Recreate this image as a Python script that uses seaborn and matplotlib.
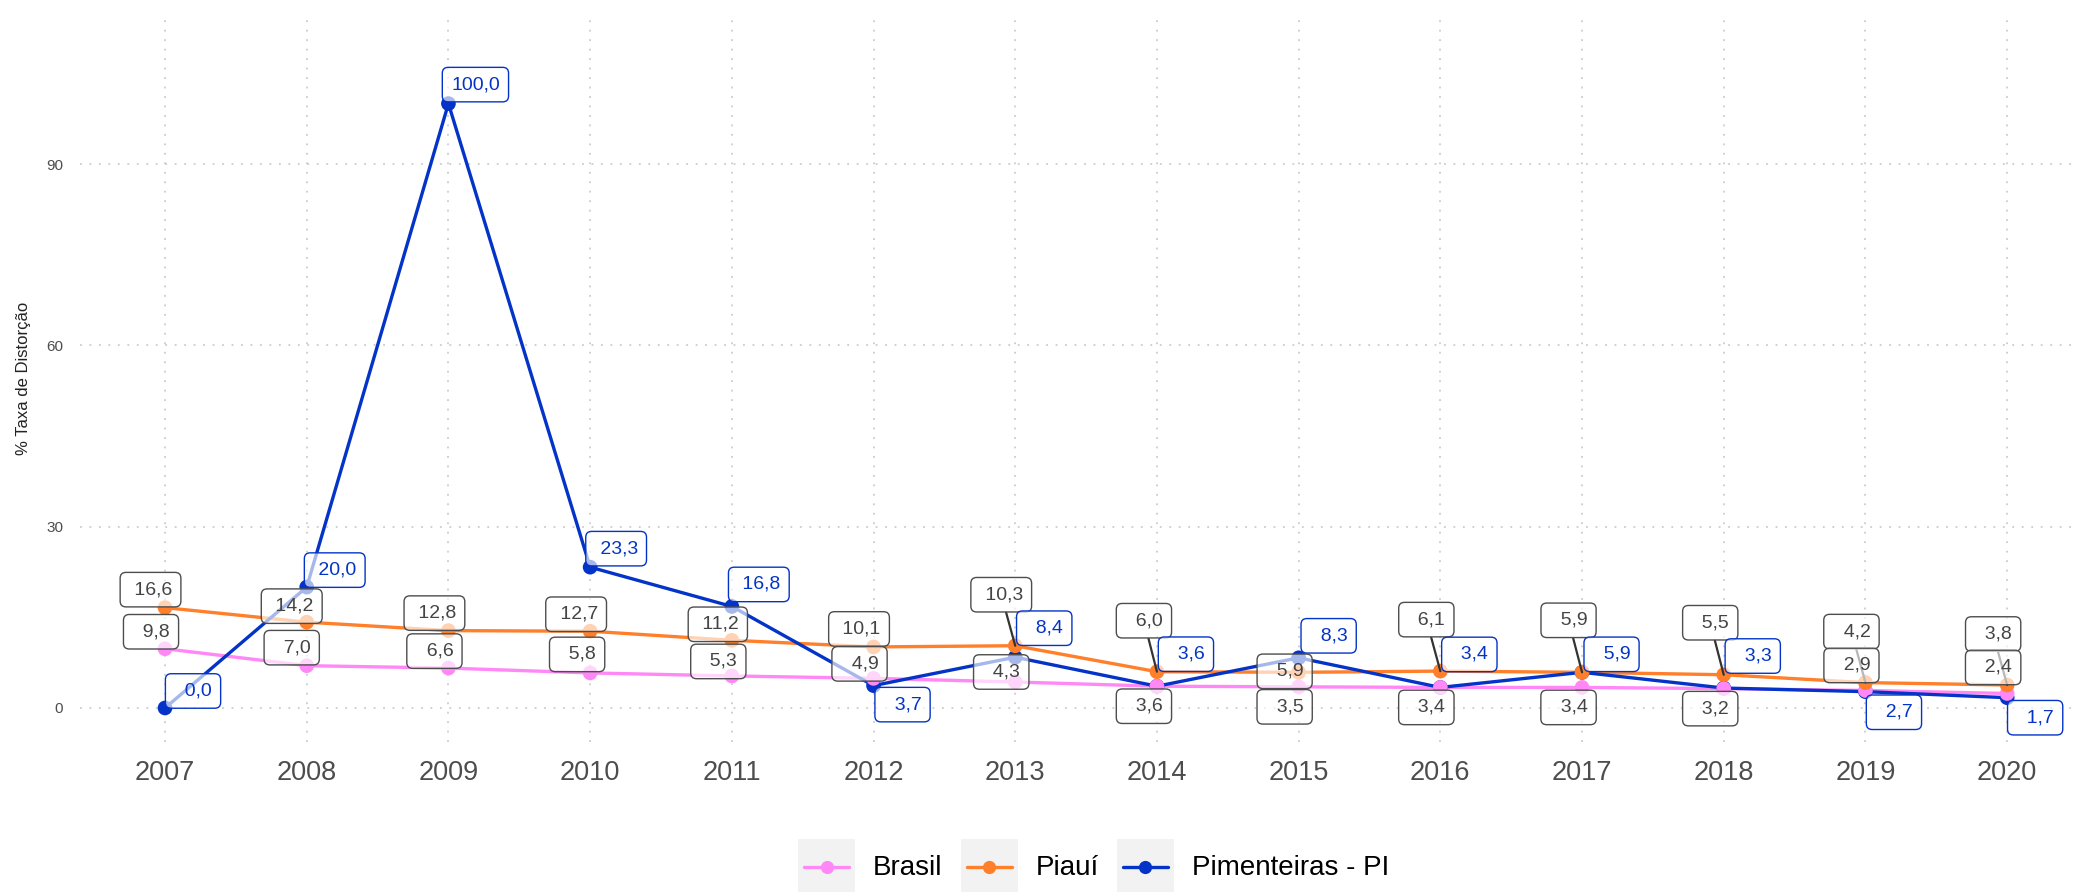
import matplotlib
matplotlib.use("Agg")
import matplotlib.pyplot as plt
from matplotlib.lines import Line2D
from matplotlib.patches import Rectangle
import pandas as pd
import seaborn as sns

# Taxa de distorção idade-série (%), 2007-2020
anos = list(range(2007, 2021))
brasil = [9.8, 7.0, 6.6, 5.8, 5.3, 4.9, 4.3, 3.6, 3.5, 3.4, 3.4, 3.2, 2.9, 2.4]
piaui = [16.6, 14.2, 12.8, 12.7, 11.2, 10.1, 10.3, 6.0, 5.9, 6.1, 5.9, 5.5, 4.2, 3.8]
pimenteiras = [0.0, 20.0, 100.0, 23.3, 16.8, 3.7, 8.4, 3.6, 8.3, 3.4, 5.9, 3.3, 2.7, 1.7]
series = ["Brasil", "Piauí", "Pimenteiras - PI"]
y_ticks = [0, 30, 60, 90]
y_titulo = "% Taxa de Distorção"

cores = {"Brasil": "#FF88F6", "Piauí": "#FF7F2A", "Pimenteiras - PI": "#0334C7"}

# label box offsets from each point, in pixels (dx right, dy down)
desloc = {
    "Brasil": [(-14, -17), (-15, -18), (-14, -17), (-13, -18.5), (-13.5, -14.5),
               (-14, -14.5), (-14, -10), (-13, 20), (-14, 20), (-14, 20),
               (-13.5, 20), (-13.5, 20), (-14, -25), (-14, -26)],
    "Piauí": [(-14.5, -18), (-15, -16), (-14, -17.5), (-14, -17), (-14, -16),
              (-14.5, -18), (-14, -51), (-13, -51), (-14, -1), (-14, -51.5),
              (-13.5, -52), (-13.5, -52), (-14, -51), (-14, -51)],
    "Pimenteiras - PI": [(28, -17), (28, -17), (27, -19), (26, -18.5), (27, -22),
                         (29, 19), (29, -29), (29, -32), (30, -22), (29, -33),
                         (29.5, -18), (29, -32), (28.5, 20.6), (28, 20)],
}

valores = {"Brasil": brasil, "Piauí": piaui, "Pimenteiras - PI": pimenteiras}
df = pd.DataFrame(
    [(s, a, v) for s in series for a, v in zip(anos, valores[s])],
    columns=["serie", "ano", "taxa"],
)

sns.set_theme(style="white")
plt.rcParams["font.family"] = ["Liberation Sans", "DejaVu Sans"]

W, H = 2080, 892
fig = plt.figure(figsize=(W / 100, H / 100), dpi=100)
ax = fig.add_axes([80 / W, 1 - 742 / H, 1998 / W, 727 / H])

sns.lineplot(data=df, x="ano", y="taxa", hue="serie", hue_order=series,
             palette=cores, linewidth=2.4, legend=False, ax=ax, zorder=2)

# points: municipality first so state/country points sit on top
ordem_pts = ["Pimenteiras - PI", "Brasil", "Piauí"]
df_pts = pd.concat([df[df["serie"] == s] for s in ordem_pts])
sns.scatterplot(data=df_pts, x="ano", y="taxa", hue="serie", palette=cores,
                s=112, linewidth=0, legend=False, ax=ax, zorder=3)

ax.set_xlim(2006.40, 2020.50)
ax.set_ylim(-5.63, 114.66)
ax.set_xticks(anos)
ax.set_xticklabels([str(a) for a in anos])
ax.set_yticks(y_ticks)
ax.set_yticklabels([str(t) for t in y_ticks])
ax.tick_params(axis="x", length=0, pad=13, labelsize=19.5, labelcolor="#4D4D4D")
ax.tick_params(axis="y", length=0, pad=12, labelsize=11, labelcolor="#4D4D4D")
ax.grid(True, color="#C4C4C4", linestyle=(0, (1.2, 5)), linewidth=1.1)
for sp in ax.spines.values():
    sp.set_visible(False)
ax.set_xlabel("")
ax.set_ylabel(y_titulo, fontsize=12, color="#222222")
ax.yaxis.set_label_coords((24 - 80) / 1998, 0.5)
ax.yaxis.label.set_verticalalignment("center")

# value labels
z_label = {"Piauí": 5, "Brasil": 6, "Pimenteiras - PI": 7}
for s in ["Piauí", "Brasil", "Pimenteiras - PI"]:
    azul = s == "Pimenteiras - PI"
    tc = cores[s] if azul else "#444444"
    ec = cores[s] if azul else "#4D4D4D"
    for a, v, (dx, dy) in zip(anos, valores[s], desloc[s]):
        txt = f"{v:.1f}".replace(".", ",").rjust(5)
        kw = {}
        if abs(dy) > 40:
            kw["arrowprops"] = dict(arrowstyle="-", color="#333333", lw=1.6,
                                    shrinkA=0, shrinkB=0)
        ax.annotate(txt, xy=(a, v), xytext=(dx, -dy), textcoords="offset pixels",
                    ha="center", va="center", fontsize=14, color=tc,
                    bbox=dict(boxstyle="round,pad=0.45,rounding_size=0.3",
                              fc=(1, 1, 1, 0.65), ec=ec, lw=1.0),
                    zorder=z_label[s], annotation_clip=False, **kw)

# legend along the bottom edge
fig.canvas.draw()
renderer = fig.canvas.get_renderer()
x_px = 798
y_c = 867
for nome in series:
    fig.add_artist(Rectangle((x_px / W, -10 / H), 57 / W, (892 + 10 - 839) / H,
                             transform=fig.transFigure, fc="#F2F2F2", ec="none"))
    fig.add_artist(Line2D([(x_px + 6) / W, (x_px + 51) / W], [1 - y_c / H] * 2,
                          transform=fig.transFigure, color=cores[nome], lw=2.4))
    fig.add_artist(Line2D([(x_px + 28.5) / W], [1 - y_c / H], transform=fig.transFigure,
                          marker="o", ms=9.5, color=cores[nome], mec="none", lw=0))
    t = fig.text((x_px + 75) / W, 1 - 868 / H, nome, fontsize=20, color="black",
                 ha="left", va="center")
    bb = t.get_window_extent(renderer)
    x_px = bb.x1 + 18

fig.savefig("out.png", dpi=100)
